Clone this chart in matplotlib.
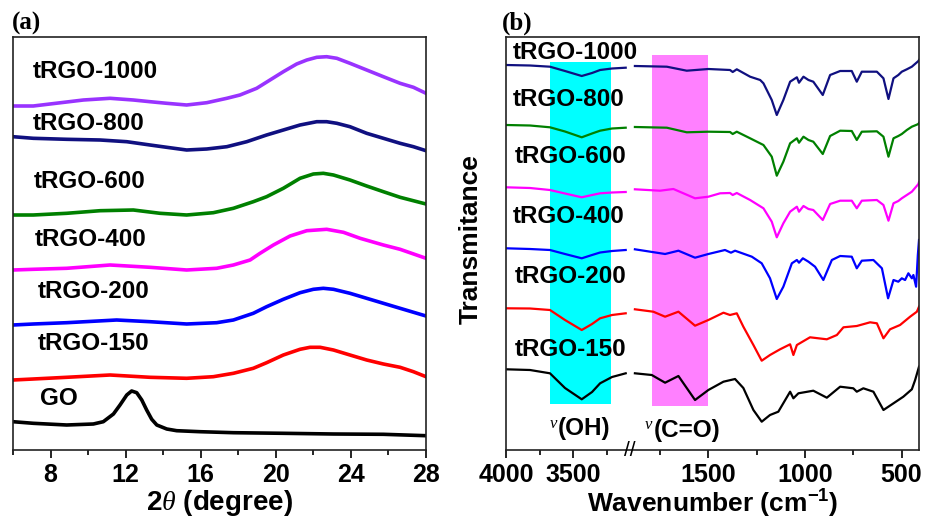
import numpy as np
import matplotlib
matplotlib.use("Agg")
import matplotlib.pyplot as plt
from matplotlib.ticker import FixedLocator, NullFormatter
import matplotlib.transforms as mtransforms

plt.rcParams['font.family'] = ['Liberation Sans', 'DejaVu Sans']
plt.rcParams['mathtext.fontset'] = 'custom'
plt.rcParams['mathtext.it'] = 'Liberation Serif:italic'
plt.rcParams['mathtext.rm'] = 'Liberation Sans:bold'
plt.rcParams['mathtext.bf'] = 'Liberation Sans:bold'
plt.rcParams['mathtext.default'] = 'regular'

# ---------------- Panel (a): XRD ----------------
xrd_labels = ["tRGO-1000", "tRGO-800", "tRGO-600", "tRGO-400", "tRGO-200", "tRGO-150", "GO"]
xrd_colors = ["#9933FF", "#101080", "#008000", "#FF00FF", "#0000FF", "#FF0000", "#000000"]

x_1000 = [6, 7.08, 7.97, 9.75, 11.17, 12.41, 13.30, 14.19, 15.25, 16.32, 17.39, 18.09, 18.98,
          19.69, 20.40, 21.11, 21.65, 22.18, 22.71, 23.25, 23.95, 24.84, 25.73, 26.62, 27.33, 28]
i_1000 = [344, 344, 346, 350, 351.7, 350, 348.3, 346.7, 345, 347.3, 351.7, 355, 361.7, 370,
          378.3, 386, 390, 392.7, 393.3, 391.7, 386.7, 380, 373.3, 366.7, 362.7, 356.7]
x_800 = [6, 7.08, 8.86, 10.64, 12.06, 13.30, 14.19, 15.25, 16.32, 17.39, 18.45, 19.51, 20.40,
         21.29, 22.18, 22.71, 23.25, 23.95, 24.84, 25.73, 26.62, 27.33, 28]
i_800 = [313.3, 311.7, 310.7, 310, 308.3, 305, 302.7, 300, 301, 303.3, 308.3, 315, 320, 325,
         328.3, 328.3, 326.7, 323.3, 316.7, 311.7, 306.7, 303.3, 299.3]
x_600 = [6, 7.08, 8.86, 10.64, 12.41, 13.83, 15.25, 16.67, 17.74, 18.80, 19.51, 20.40, 21.29,
         22.0, 22.53, 23.07, 23.95, 24.84, 25.73, 26.62, 28]
i_600 = [235, 235, 236.7, 239.3, 240, 236.7, 235, 237.3, 241.7, 248.3, 253.3, 261.7, 271.7,
         276, 276.7, 275, 270, 264, 258.3, 252.7, 246]
x_400 = [6, 7.08, 8.86, 11.17, 13.30, 15.25, 16.85, 17.74, 18.63, 19.16, 19.87, 20.76, 21.65,
         22.71, 23.60, 24.49, 25.73, 26.62, 28]
i_400 = [180, 180.7, 181.7, 185, 182.7, 180, 181.7, 185, 190, 196.7, 205, 214, 219.3, 220.7,
         217.7, 211.7, 205, 200.7, 191.7]
x_200 = [6, 7.08, 8.86, 11.52, 13.30, 15.25, 16.85, 17.74, 18.80, 19.51, 20.40, 21.29, 22.0,
         22.53, 23.07, 23.95, 24.84, 25.73, 26.62, 28]
i_200 = [125, 126, 127.3, 130, 128.3, 126, 127.3, 130, 136.7, 143.3, 150.7, 157.3, 160.7,
         161.7, 160.7, 156.7, 151.7, 146.7, 141.7, 134]
x_150 = [6, 7.08, 8.86, 11.17, 13.30, 15.25, 16.67, 17.74, 18.80, 19.51, 20.40, 21.29, 21.82,
         22.36, 23.07, 23.95, 24.84, 25.73, 26.62, 27.33, 28]
i_150 = [70, 71, 72.7, 75, 72.7, 71.7, 73.3, 76.7, 81.7, 87.3, 95, 100.7, 102.7, 102.7, 100,
         95, 90, 86, 82.7, 78.3, 73.3]
x_go = [6, 7.08, 8.86, 10.28, 10.81, 11.35, 11.70, 12.06, 12.32, 12.59, 12.86, 13.12, 13.39,
        13.66, 14.19, 14.72, 15.96, 17.74, 20.40, 23.07, 25.73, 28]
i_go = [28.3, 26.7, 25, 26, 28.3, 36, 45, 55, 59, 57.3, 50, 40, 30.7, 25, 21, 19.3, 18.3,
        17.3, 16.7, 16, 15.7, 14.3]

xrd_x = [x_1000, x_800, x_600, x_400, x_200, x_150, x_go]
xrd_i = [i_1000, i_800, i_600, i_400, i_200, i_150, i_go]
xrd_ticks_major = [8, 12, 16, 20, 24, 28]
xrd_ticks_minor = [6, 10, 14, 18, 22, 26]

# ---------------- Panel (b): FTIR ----------------
ftir_labels = ["tRGO-1000", "tRGO-800", "tRGO-600", "tRGO-400", "tRGO-200", "tRGO-150"]
ftir_colors = ["#101080", "#008000", "#FF00FF", "#0000FF", "#FF0000", "#000000"]

w_left = [4000, 3821, 3672, 3560, 3435, 3358, 3298, 3209, 3107]
tl_1000 = [385, 384.5, 383.3, 379, 374, 377, 380, 381.5, 382.3]
tl_800 = [325, 324.5, 322.7, 318.5, 312.7, 316.5, 319.3, 321.5, 322.3]
tl_600 = [262.7, 262, 260, 256.5, 252.7, 255, 256.7, 257.5, 258]
tl_400 = [201.7, 201, 200, 196, 191.7, 195, 197.5, 199, 200]
tl_200 = [141.7, 141.5, 140, 130, 120, 126, 131.7, 135, 136.7]
tl_150 = [80.7, 80, 76.7, 62, 50.7, 58, 66.7, 73, 76.7]

wr_1000 = [1885, 1715, 1612, 1500, 1388, 1374, 1353, 1284, 1232, 1215, 1172, 1146, 1112, 1077,
           1042, 1031, 1008, 982, 957, 908, 870, 818, 758, 732, 706, 628, 594, 568, 542, 517,
           499, 473, 447, 413, 410]
tr_1000 = [384, 383.3, 379.3, 381, 380, 378, 380.7, 373.3, 370, 366.7, 350, 335, 350, 368.3,
           372.7, 367.3, 373.3, 370, 368.3, 355, 375, 379, 379, 368.3, 378.3, 378.3, 371.7, 351,
           371.7, 375, 378.3, 380.7, 383.3, 389, 390]
wr_800 = [1885, 1715, 1612, 1500, 1388, 1374, 1353, 1284, 1215, 1172, 1146, 1112, 1077, 1042,
          1031, 1008, 982, 957, 908, 870, 818, 758, 732, 706, 628, 594, 568, 542, 517, 499, 473,
          447, 413, 410]
tr_800 = [323, 322.3, 317.7, 318.3, 318, 316, 318.3, 311.7, 305, 293.3, 274.3, 288.3, 306.7,
          311.7, 307.3, 313.3, 310, 308.3, 296, 314, 319.3, 319, 310, 318.3, 318.7, 313.3, 293.3,
          311.7, 314, 316, 320, 323.3, 326, 327]
wr_600 = [1885, 1750, 1681, 1569, 1500, 1439, 1388, 1374, 1353, 1284, 1215, 1172, 1146, 1112,
          1077, 1042, 1031, 1008, 982, 957, 908, 870, 818, 758, 732, 706, 628, 594, 568, 542,
          517, 499, 473, 447, 413, 410]
tr_600 = [260.7, 259.3, 261, 251.7, 253.3, 256.7, 257, 255, 257, 250, 241.7, 228.3, 212.7, 226.7,
          238.3, 243.3, 238.3, 244, 241, 240, 230, 246, 249.3, 249.3, 241.7, 249.3, 250, 245,
          229.3, 246.7, 249, 251.7, 255, 258.3, 266, 268]
wr_400 = [1885, 1724, 1655, 1569, 1500, 1414, 1383, 1362, 1275, 1224, 1181, 1146, 1112, 1068,
          1042, 1031, 1011, 982, 948, 905, 861, 818, 758, 732, 706, 646, 602, 570, 542, 517,
          499, 482, 465, 447, 439, 425, 416, 410]
tr_400 = [200.7, 196, 199.3, 192.3, 196, 200, 197.3, 199.3, 193.3, 186.7, 171.7, 151, 163.3,
          186.7, 190, 187.3, 191.7, 188.3, 183.3, 170, 190, 194, 193.3, 181.7, 189.3, 190, 181.7,
          151.7, 170, 168.3, 171.7, 170, 176.7, 171.7, 175, 163.3, 195, 210]
wr_200 = [1885, 1785, 1724, 1655, 1569, 1500, 1422, 1388, 1353, 1319, 1267, 1224, 1181, 1129,
          1077, 1060, 1042, 974, 887, 835, 801, 732, 663, 628, 594, 560, 508, 456, 421, 410]
tr_200 = [140.7, 138.3, 133.3, 138.3, 124.3, 130, 137.3, 135, 136.7, 123.3, 105, 89.3, 95, 100.7,
          105.7, 95, 105, 112.7, 110.7, 115, 122.7, 124, 127.7, 126.7, 111.7, 120.7, 125, 133.3,
          138.3, 143.3]
wr_150 = [1885, 1793, 1724, 1655, 1569, 1500, 1422, 1362, 1319, 1267, 1224, 1181, 1138, 1077,
          1060, 1034, 957, 887, 818, 750, 732, 698, 646, 594, 542, 491, 447, 430, 410]
tr_150 = [76.7, 75, 67.3, 74, 50, 60, 68.3, 71, 62, 40, 28.3, 35, 38.3, 58.3, 51.7, 56.7, 59.3,
          52.3, 63.3, 61.7, 58.3, 61.7, 58.3, 40, 46.7, 53.3, 60.7, 70, 83.3]

ftir_left = [tl_1000, tl_800, tl_600, tl_400, tl_200, tl_150]
ftir_right_w = [wr_1000, wr_800, wr_600, wr_400, wr_200, wr_150]
ftir_right_t = [tr_1000, tr_800, tr_600, tr_400, tr_200, tr_150]

ftir_ticks_major = [4000, 3500, 1500, 1000, 500]
ftir_ticks_minor = [3750, 3250, 1750, 1250, 750]
oh_band = [3672, 3219]
co_band = [1793, 1500]

# broken wavenumber axis: piecewise linear scale
brk_w = [400, 1880, 3100, 4000]
brk_u = [0, 285.9, 294.2, 414.8]


def fwd(w):
    return np.interp(w, brk_w, brk_u)


def inv(u):
    return np.interp(u, brk_u, brk_w)


fig = plt.figure(figsize=(9.35, 5.21), dpi=100)
W, H = 935, 521
ax1 = fig.add_axes([13 / W, 1 - 450 / H, (426 - 13) / W, (450 - 37) / H])
ax2 = fig.add_axes([506 / W, 1 - 450 / H, (919 - 506) / W, (450 - 37) / H])

lab_font = dict(fontsize=17.5, fontweight='bold')

# ---- panel a
for xs, ys, c in zip(xrd_x, xrd_i, xrd_colors):
    ax1.plot(xs, ys, color=c, lw=2.6, solid_joinstyle='round')
ax1.set_xlim(6, 28)
ax1.set_ylim(0, 413)
ax1.set_yticks([])
ax1.xaxis.set_major_locator(FixedLocator(xrd_ticks_major))
ax1.xaxis.set_minor_locator(FixedLocator(xrd_ticks_minor))
ax1.set_xticklabels([str(t) for t in xrd_ticks_major])

a_lab_x = [7.07, 7.07, 7.1, 7.15, 7.3, 7.3, 7.45]
a_lab_y = [378.3, 326.7, 268.3, 210, 158.3, 106.7, 51.7]
for t, x, y in zip(xrd_labels, a_lab_x, a_lab_y):
    ax1.text(x, y, t, ha='left', va='center', **lab_font)
ax1.set_xlabel(r"2$\mathit{\theta}$ (degree)", fontsize=20, fontweight='bold', labelpad=1)
fig.text(12 / W, 1 - 23 / H, "(a)", family='Liberation Serif', fontweight='bold', fontsize=18,
         ha='left', va='center')

# ---- panel b
ax2.set_xscale('function', functions=(fwd, inv))
ax2.fill_between(oh_band, 46, 388.3, color='#00FFFF', lw=0, zorder=0)
ax2.fill_between(co_band, 44.3, 395, color='#FF80FF', lw=0, zorder=0)
for tl, wr, tr, c in zip(ftir_left, ftir_right_w, ftir_right_t, ftir_colors):
    ax2.plot(w_left, tl, color=c, lw=1.6, solid_joinstyle='round')
    ax2.plot(wr, tr, color=c, lw=1.6, solid_joinstyle='round')
ax2.set_xlim(4000, 410)
ax2.set_ylim(0, 413)
ax2.set_yticks([])
ax2.xaxis.set_major_locator(FixedLocator(ftir_ticks_major))
ax2.xaxis.set_minor_locator(FixedLocator(ftir_ticks_minor))
ax2.xaxis.set_minor_formatter(NullFormatter())
ax2.set_xticklabels([str(t) for t in ftir_ticks_major])

b_lab_x = [3948, 3952, 3933, 3948, 3933, 3933]
b_lab_y = [397.7, 350, 293.3, 233.3, 173.3, 100.7]
for t, x, y in zip(ftir_labels, b_lab_x, b_lab_y):
    ax2.text(x, y, t, ha='left', va='center', **lab_font)

# band annotations: small nu followed by bold group name
nu_font = dict(family='Liberation Serif', style='italic', fontsize=12)
ax2.text(3619, 34, "ν", ha='right', va='top', **nu_font)
ax2.text(3614, 21.7, "(OH)", ha='left', va='center', **lab_font)
ax2.text(1791, 33, "ν", ha='right', va='top', **nu_font)
ax2.text(1784, 20, "(C=O)", ha='left', va='center', **lab_font)

trans = mtransforms.blended_transform_factory(ax2.transAxes, ax2.transAxes)
ax2.text((630 - 506) / 413, 0.0, "//", transform=trans, ha='center', va='center',
         fontsize=15, clip_on=False)

ax2.set_xlabel(r"Wavenumber (cm$^{-1}$)", fontsize=19, fontweight='bold', labelpad=1)
ax2.set_ylabel("Transmitance", fontsize=19, fontweight='bold')
ax2.yaxis.set_label_coords((483 - 506) / 413, (450 - 239) / 413)
fig.text(502 / W, 1 - 23 / H, "(b)", family='Liberation Serif', fontweight='bold', fontsize=18,
         ha='left', va='center')

for ax in (ax1, ax2):
    for s in ax.spines.values():
        s.set_linewidth(1.2)
        s.set_color('#222222')
    ax.tick_params(axis='x', which='major', direction='out', length=6, width=1.2,
                   labelsize=18, pad=3)
    ax.tick_params(axis='x', which='minor', direction='out', length=3.5, width=1.2)
    for lbl in ax.get_xticklabels():
        lbl.set_fontweight('bold')

fig.savefig("out.png", dpi=100)
